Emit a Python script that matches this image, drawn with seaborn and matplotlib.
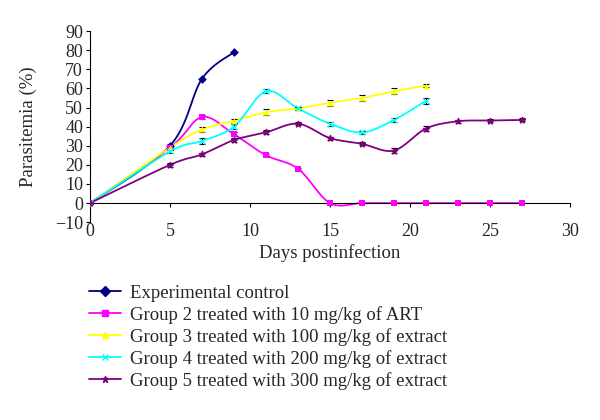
import numpy as np
import pandas as pd
import matplotlib
matplotlib.use('Agg')
import matplotlib.pyplot as plt
from matplotlib.lines import Line2D
import seaborn as sns

# Values
groups = ['Experimental control',
          'Group 2 treated with 10 mg/kg of ART',
          'Group 3 treated with 100 mg/kg of extract',
          'Group 4 treated with 200 mg/kg of extract',
          'Group 5 treated with 300 mg/kg of extract']

days_control = [0, 5, 7, 9]
vals_control = [0, 30, 65, 79]
err_control = [0, 1, 0, 0]

days_g2 = [0, 5, 7, 9, 11, 13, 15, 17, 19, 21, 23, 25, 27]
vals_g2 = [0, 29, 45, 36, 25, 18, 0, 0, 0, 0, 0, 0, 0]
err_g2 = [0, 1, 1, 1, 0.5, 0.5, 0, 0, 0, 0, 0, 0, 0]

days_g3 = [0, 5, 7, 9, 11, 13, 15, 17, 19, 21]
vals_g3 = [0, 29, 38.5, 43, 47.5, 49.5, 52.5, 55, 58.5, 61.5]
err_g3 = [0, 1, 1.5, 1, 1.5, 1, 1.5, 1.5, 1.5, 0.8]

days_g4 = [0, 5, 7, 9, 11, 13, 15, 17, 19, 21]
vals_g4 = [0, 27, 32.5, 40, 58.5, 49.5, 41.5, 37, 43.5, 53.5]
err_g4 = [0, 1, 1.5, 1.5, 1, 1, 1, 0.8, 1, 1.5]

days_g5 = [0, 5, 7, 9, 11, 13, 15, 17, 19, 21, 23, 25, 27]
vals_g5 = [0, 20, 25.5, 33, 37, 41.5, 34, 31, 27.5, 39, 42.8, 43.2, 43.5]
err_g5 = [0, 1, 0.8, 1, 1, 0.8, 0.8, 0.8, 1.2, 1.2, 0.8, 0.8, 0.8]

colors = ['#000080', '#FF00FF', '#FFFF00', '#00FFFF', '#800080']
markers = ['D', 's', '^', 'x', '*']

df = pd.concat([
    pd.DataFrame({'day': d, 'value': v, 'err': e, 'group': g})
    for d, v, e, g in zip(
        [days_control, days_g2, days_g3, days_g4, days_g5],
        [vals_control, vals_g2, vals_g3, vals_g4, vals_g5],
        [err_control, err_g2, err_g3, err_g4, err_g5],
        groups)
], ignore_index=True)


def smooth_path(x, y, n=30):
    # Excel-style smoothed line: cubic bezier through the points
    x = np.asarray(x, float)
    y = np.asarray(y, float)
    p = np.column_stack([x, y])
    p = np.vstack([p[0], p, p[-1]])
    out = []
    t = np.linspace(0, 1, n)[:, None]
    for i in range(1, len(p) - 2):
        p0, p1, p2, p3 = p[i - 1], p[i], p[i + 1], p[i + 2]
        b1 = p1 + (p2 - p0) / 6
        b2 = p2 - (p3 - p1) / 6
        seg = ((1 - t) ** 3) * p1 + 3 * ((1 - t) ** 2) * t * b1 + 3 * (1 - t) * t ** 2 * b2 + t ** 3 * p2
        out.append(seg)
    out = np.vstack(out)
    return out[:, 0], out[:, 1]


sns.set_style('white')
plt.rcParams['font.family'] = ['Liberation Serif', 'DejaVu Serif']

fig = plt.figure(figsize=(6, 4.2), dpi=100)
ax = fig.add_axes([0.15, 0.471, 0.80, 0.455])

for g, c, m in zip(groups, colors, markers):
    sub = df[df['group'] == g]
    sx, sy = smooth_path(sub['day'], sub['value'])
    ax.plot(sx, sy, color=c, lw=1.3, zorder=2)
    has_err = sub['err'] > 0
    ax.errorbar(sub['day'][has_err], sub['value'][has_err], yerr=sub['err'][has_err],
                fmt='none', ecolor='black', elinewidth=0.8, capsize=2, capthick=0.8, zorder=3)
    sns.scatterplot(x=sub['day'], y=sub['value'], color=c, marker=m,
                    s=20 if m != 'x' else 16, linewidth=1 if m in ('x', '*') else 0,
                    edgecolor=c, ax=ax, zorder=4, legend=False)

ax.set_xlim(0, 30)
ax.set_ylim(-10, 90)
ax.set_xticks(range(0, 31, 5))
ax.set_yticks(range(-10, 91, 10))

ax.spines['top'].set_visible(False)
ax.spines['right'].set_visible(False)
ax.spines['bottom'].set_position(('data', 0))
ax.spines['left'].set_color('black')
ax.spines['bottom'].set_color('black')
ax.tick_params(axis='both', direction='out', length=3, width=0.8, color='black',
               labelsize=13, left=True, bottom=True)
ax.tick_params(axis='x', pad=11)
ax.tick_params(axis='y', pad=2)
ax.set_xticklabels([str(v) for v in range(0, 31, 5)])
ax.set_yticklabels([str(v) if v >= 0 else '\u221210' for v in range(-10, 91, 10)])
ax.set_xlabel('Days postinfection', fontsize=13.5)
ax.xaxis.set_label_coords(0.5, -0.115)
ax.set_ylabel('Parasitemia (%)', fontsize=13.5)
ax.yaxis.set_label_coords(-0.11, 0.5)

handles = [Line2D([0], [0], color=c, marker=m, markersize=5, lw=1.3,
                  markeredgecolor=c, markeredgewidth=1)
           for c, m in zip(colors, markers)]
fig.legend(handles, groups, loc='upper left', bbox_to_anchor=(0.148, 0.322),
           frameon=False, fontsize=13.5, handlelength=1.7, labelspacing=0.22,
           handletextpad=0.5, borderaxespad=0, borderpad=0)

fig.savefig('out.png', dpi=100)
